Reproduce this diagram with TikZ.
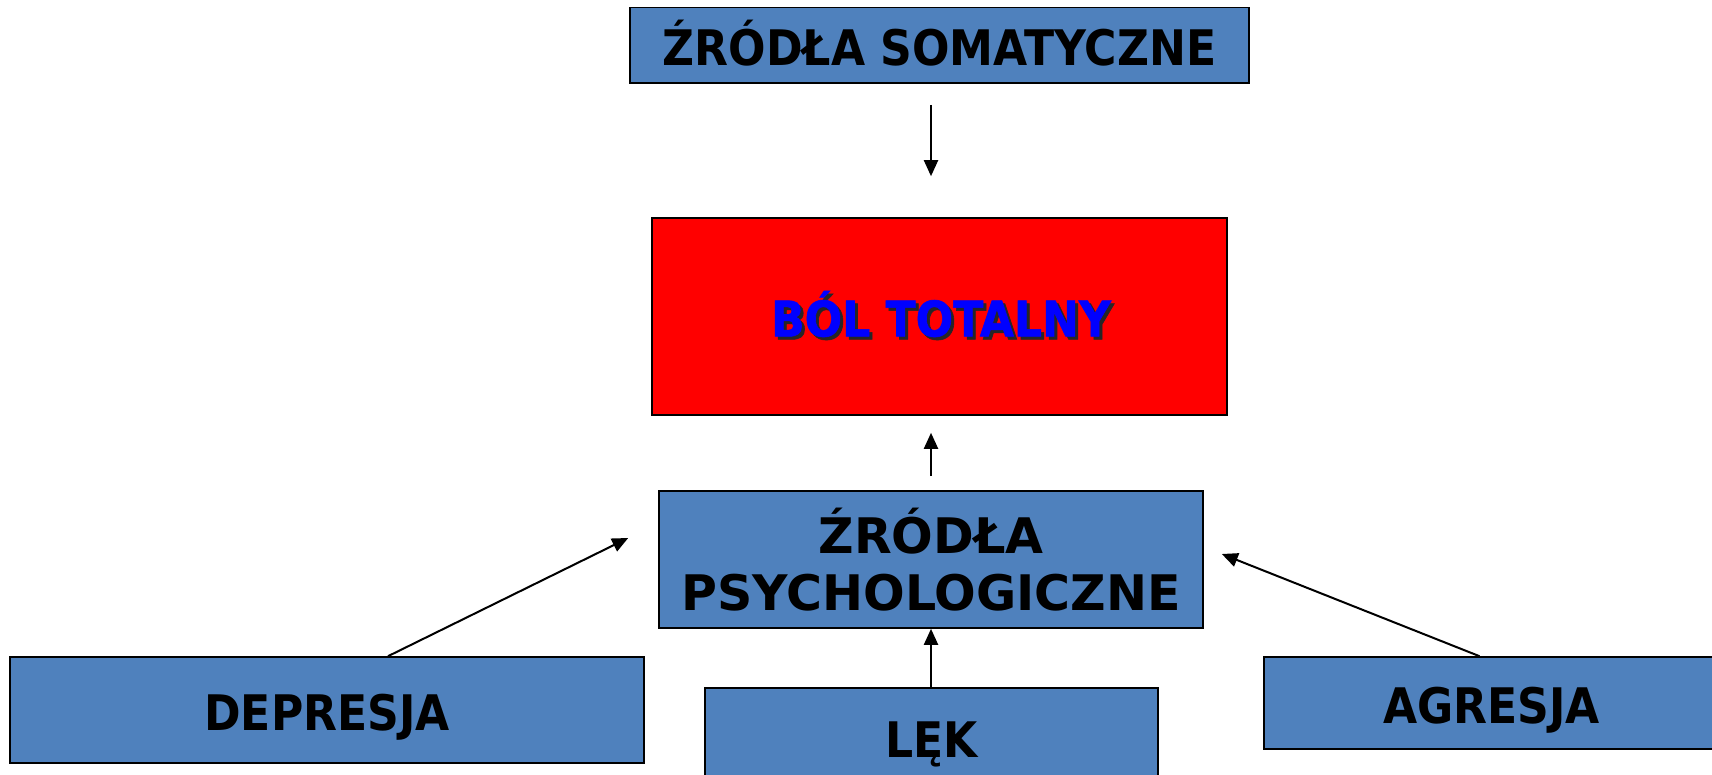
\documentclass[tikz,border=0pt]{standalone}
\usepackage{fontspec}
\setmainfont{DejaVu Sans}
\newfontfamily\boxfont[FakeStretch=0.9]{DejaVu Sans Bold}
\newfontfamily\psyfont{DejaVu Sans Bold}
\newfontfamily\bolfont[FakeStretch=0.9,FakeBold=1.2]{DejaVu Sans Bold}
\usetikzlibrary{arrows.meta,calc}
\definecolor{boxblue}{RGB}{79,129,189}
\definecolor{txtblue}{RGB}{0,0,255}
\definecolor{boxred}{RGB}{255,0,0}
\begin{document}
\begin{tikzpicture}[x=0.5pt,y=-0.5pt,
  bluebox/.style={draw=black, line width=0.8pt, fill=boxblue, inner sep=0pt,
    font=\boxfont\fontsize{24.5}{29}\selectfont, text=black, align=center,
    text height=20.5pt, text depth=0pt},
  psybox/.style={draw=black, line width=0.8pt, fill=boxblue, inner sep=0pt,
    font=\psyfont\fontsize{24.5}{28.5}\selectfont, text=black, align=center},
  redbox/.style={draw=black, line width=0.8pt, fill=boxred, inner sep=0pt},
  boltext/.style={font=\bolfont\fontsize{24.5}{29}\selectfont, inner sep=0pt,
    text height=17.9pt, text depth=0pt},
  arr/.style={line width=1pt, -{Triangle[length=8pt,width=7pt]}}]
\useasboundingbox (0,0) rectangle (1712,775);
\clip (0,0) rectangle (1712,775);
\fill[white] (0,0) rectangle (1712,775);
\coordinate (ax) at (931,0);
\node[bluebox, minimum width=309.5pt, minimum height=37.7pt] (som) at (939.5,45.3) {ŹRÓDŁA SOMATYCZNE};
\node[redbox, minimum width=287.5pt, minimum height=98.5pt] (red) at (939.5,316.5) {};
\node[boltext, text=black!85] (redshadow) at (944,321.5) {BÓL TOTALNY};
\node[boltext, text=txtblue] (redtext) at (941,318.5) {BÓL TOTALNY};
\node[psybox, minimum width=272pt, minimum height=68.5pt] (psych) at (931,559.5) {ŹRÓDŁA\\PSYCHOLOGICZNE};
\node[bluebox, minimum width=317pt, minimum height=53pt] (dep) at (327,710) {DEPRESJA};
\node[bluebox, minimum width=226.5pt, minimum height=49pt] (lek) at (931.5,737) {LĘK};
\node[bluebox, minimum width=227.5pt, minimum height=46pt] (agr) at (1491.5,703) {AGRESJA};
\draw[arr, shorten <=10.5pt, shorten >=20.5pt] (som.south -| ax) -- (red.north -| ax);
\draw[arr, shorten <=7pt, shorten >=8.5pt] (psych.north -| ax) -- (red.south -| ax);
\draw[arr] (lek.north -| ax) -- (psych.south -| ax);
\draw[arr] ([xshift=30.5pt]dep.north) -- ([xshift=-15pt,yshift=10.75pt]psych.west);
\draw[arr] ([xshift=-6pt]agr.north) -- ([xshift=9pt,yshift=2.75pt]psych.east);
\end{tikzpicture}
\end{document}
